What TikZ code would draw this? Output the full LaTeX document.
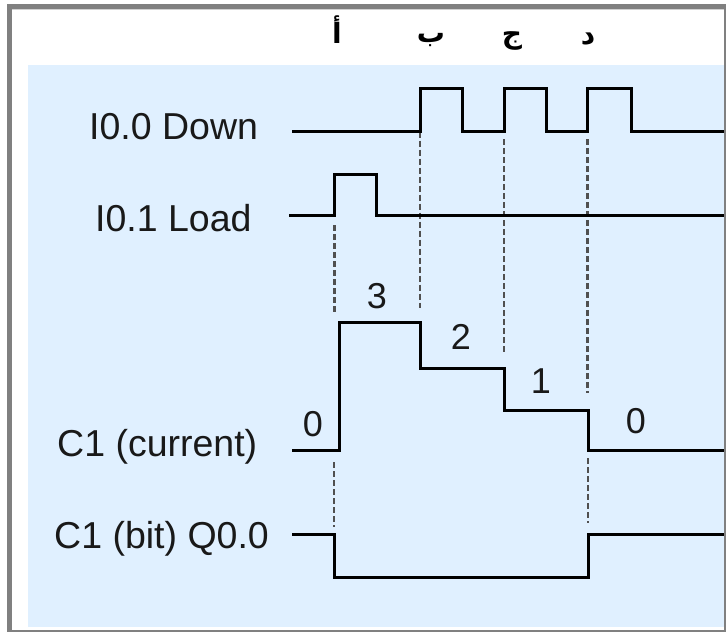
\documentclass[tikz,border=0pt]{standalone}
\usepackage{fontspec}
\setmainfont{Liberation Sans}
\newfontfamily\arabicfont[Script=Arabic]{DejaVu Sans}
\TeXXeTstate=1
\definecolor{bgblue}{RGB}{224,240,255}
\definecolor{framegray}{RGB}{128,128,128}
\definecolor{guidegray}{RGB}{80,80,80}
\begin{document}
\begin{tikzpicture}[x=1pt,y=-1pt,
  wave/.style={line width=3pt, line join=miter, black},
  guide/.style={line width=2.4pt, guidegray, dash pattern=on 6pt off 3pt},
  lbl/.style={inner sep=0pt, anchor=base west, font=\fontsize{37.5}{42}\selectfont, text=black!90},
  num/.style={inner sep=0pt, font=\fontsize{36}{40}\selectfont, text=black!90},
  ar/.style={inner sep=0pt, anchor=base, font=\arabicfont\bfseries\fontsize{28}{34}\selectfont, text=black}]
\useasboundingbox (0,0) rectangle (726,632);
\fill[white] (0,0) rectangle (726,632);
% frame
\fill[bgblue] (28,65) rectangle (723.5,627);
\fill[black!18] (11.5,9) rectangle (723.5,10.2);
\fill[framegray] (7,4) rectangle (726,9);
\fill[framegray] (7,4) rectangle (11.5,632);
\fill[framegray] (723.5,4) rectangle (726,632);
\fill[framegray] (7,629.8) rectangle (726,632);
% Arabic markers
\node[ar] (la) at (337,43) {\beginR أ\endR};
\node[ar] (lb) at (431,42) {\beginR ب\endR};
\node[ar] (lc) at (512,43) {\beginR ج\endR};
\node[ar] (ld) at (588,44) {\beginR د\endR};
% signal names
\node[lbl] (sdown) at (89,139) {I0.0 Down};
\node[lbl] (sload) at (95,231.7) {I0.1 Load};
\node[lbl] (scur) at (57,456.5) {C1 (current)};
\node[lbl] (sbit) at (54,548) {C1 (bit) Q0.0};
% guides
\draw[guide] (334.5,225) -- (334.5,312);
\draw[guide] (420,131.5) -- (420,308);
\draw[guide] (504,139) -- (504,353);
\draw[guide] (587.5,139) -- (587.5,393);
\draw[guide] (334,462) -- (334,527);
\draw[guide] (588,458) -- (588,523);
% waves
\draw[wave] (292,131.5) -- (420,131.5) -- (420,88) -- (462.5,88) -- (462.5,131.5) -- (504,131.5) -- (504,88) -- (546.5,88) -- (546.5,131.5) -- (587.5,131.5) -- (587.5,88) -- (631.5,88) -- (631.5,131.5) -- (723.5,131.5);
\draw[wave] (289,215) -- (334.5,215) -- (334.5,174.5) -- (376.5,174.5) -- (376.5,215) -- (723.5,215);
\draw[wave] (292,450) -- (339,450) -- (339,322) -- (420,322) -- (420,368) -- (504,368) -- (504,410) -- (588,410) -- (588,450) -- (723.5,450);
\draw[wave] (292,534) -- (334,534) -- (334,577) -- (588,577) -- (588,534) -- (723.5,534);
% counts
\node[num] (n0a) at (313,424) {0};
\node[num] (n3) at (377,296.5) {3};
\node[num] (n2) at (461,336.5) {2};
\node[num] (n1) at (541,381.5) {1};
\node[num] (n0b) at (636,421.5) {0};
\end{tikzpicture}
\end{document}
